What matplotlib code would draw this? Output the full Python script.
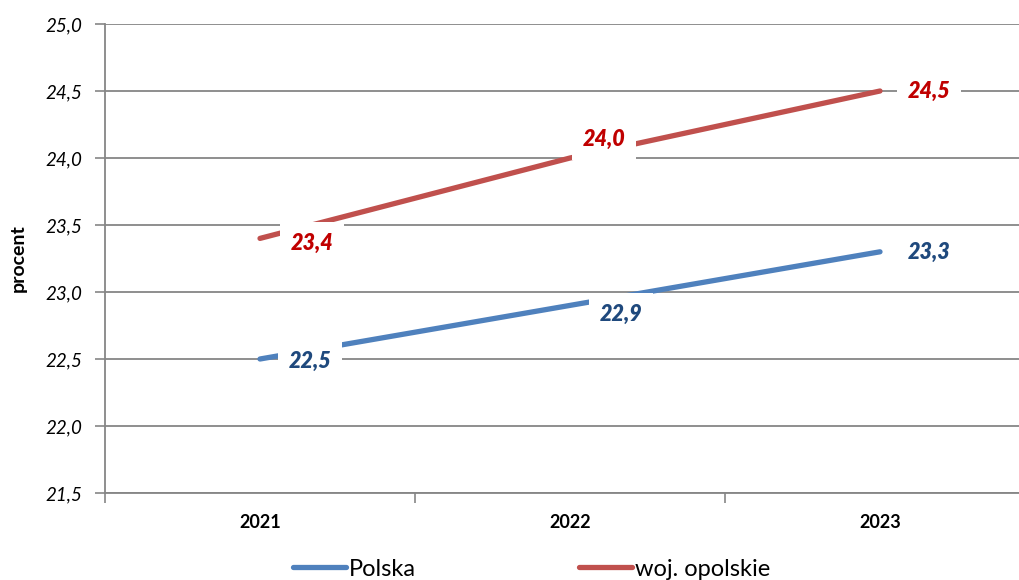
import matplotlib
matplotlib.use("Agg")
import matplotlib.pyplot as plt

# dane
lata = ["2021", "2022", "2023"]
polska = [22.5, 22.9, 23.3]
opolskie = [23.4, 24.0, 24.5]

# przesunięcia etykiet (w pikselach)
off_polska = [(50, -2), (51, -9), (49, -1)]
off_opolskie = [(52, -5), (34, 19), (49, 0)]

plt.rcParams['font.family'] = ['Lato', 'DejaVu Sans']

fig = plt.figure(figsize=(10.2, 5.8), dpi=100)
ax = fig.add_axes([105 / 1020, 87 / 580, 930 / 1020, 469 / 580])

x = list(range(len(lata)))
ax.plot(x, polska, color="#4F81BD", lw=3.8, solid_capstyle="round", label="Polska", zorder=3)
ax.plot(x, opolskie, color="#C0504D", lw=3.8, solid_capstyle="round", label="woj. opolskie", zorder=3)

for xi, v, o in zip(x, polska, off_polska):
    ax.annotate(f"{v:.1f}".replace(".", ","), (xi, v), xytext=o, textcoords="offset pixels",
                ha="center", va="center", fontsize=15.5, fontweight="heavy", fontstyle="italic",
                color="#1F497D", zorder=4,
                bbox=dict(boxstyle="square,pad=0.5", fc="white", ec="none"))
for xi, v, o in zip(x, opolskie, off_opolskie):
    ax.annotate(f"{v:.1f}".replace(".", ","), (xi, v), xytext=o, textcoords="offset pixels",
                ha="center", va="center", fontsize=15.5, fontweight="heavy", fontstyle="italic",
                color="#C00000", zorder=4,
                bbox=dict(boxstyle="square,pad=0.5", fc="white", ec="none"))

ax.set_xlim(-0.5, 2.5)
ax.set_ylim(21.5, 25.0)
ax.set_yticks([21.5 + 0.5 * i for i in range(8)])
ax.set_yticklabels([f"{21.5 + 0.5 * i:.1f}".replace(".", ",") for i in range(8)],
                   fontsize=13.5, fontstyle="italic")
ax.set_xticks(x)
ax.set_xticklabels(lata, fontsize=13, fontweight="bold")
ax.set_xticks([-0.5, 0.5, 1.5, 2.5], minor=True)
ax.tick_params(axis="x", which="major", length=0, pad=15)
ax.tick_params(axis="x", which="minor", length=7, width=1.2, color="#868686", direction="out")
ax.tick_params(axis="y", length=7, width=1.2, color="#868686", pad=9)

ax.grid(axis="y", color="#868686", lw=1.3)
ax.set_axisbelow(True)
for s in ["top", "right"]:
    ax.spines[s].set_visible(False)
ax.spines["left"].set_color("#868686")
ax.spines["left"].set_linewidth(1.3)
ax.spines["bottom"].set_color("#868686")
ax.spines["bottom"].set_linewidth(1.3)

ax.set_ylabel("procent", fontsize=14, fontweight="bold", labelpad=14)

fig.legend(loc="center", bbox_to_anchor=(0.521, 11 / 580), ncol=2, frameon=False,
           fontsize=17, handlelength=2.25, handletextpad=0.12, columnspacing=6.9)

fig.savefig("out.png", dpi=100)
